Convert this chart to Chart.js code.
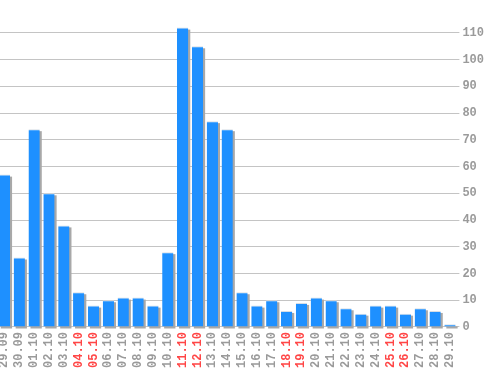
<!DOCTYPE html>
<html>
<head>
<meta charset="utf-8">
<script src="https://cdn.jsdelivr.net/npm/chart.js@4"></script>
<style>
  html, body { margin: 0; padding: 0; background: #fff; overflow: hidden; }
  #wrap { position: absolute; left: -3px; top: 0; width: 501px; height: 370px; }
</style>
</head>
<body>
<div id="wrap"><canvas id="grafica"></canvas></div>
<script>
// datos del gráfico
const fechas = ["29.09", "30.09", "01.10", "02.10", "03.10", "04.10", "05.10", "06.10", "07.10", "08.10",
  "09.10", "10.10", "11.10", "12.10", "13.10", "14.10", "15.10", "16.10", "17.10", "18.10",
  "19.10", "20.10", "21.10", "22.10", "23.10", "24.10", "25.10", "26.10", "27.10", "28.10", "29.10"];
const valores = [57, 26, 74, 50, 38, 13, 8, 10, 11, 11,
  8, 28, 112, 105, 77, 74, 13, 8, 10, 6,
  9, 11, 10, 7, 5, 8, 8, 5, 7, 6, 1];
const finesDeSemana = ["04.10", "05.10", "11.10", "12.10", "18.10", "19.10", "25.10", "26.10"];
const marcasY = [0, 10, 20, 30, 40, 50, 60, 70, 80, 90, 100, 110];

// sombra gris detrás de cada barra (usa las posiciones que calcula Chart.js)
const sombra = {
  id: "sombra",
  beforeDatasetsDraw(chart) {
    const ctx = chart.ctx;
    ctx.save();
    ctx.fillStyle = "#a8a8a8";
    for (const barra of chart.getDatasetMeta(0).data) {
      const ancho = barra.width;
      ctx.fillRect(barra.x - ancho / 2 + 2, barra.y + 2, ancho, barra.base - barra.y);
    }
    ctx.restore();
  }
};

const fuente = { family: "'Liberation Mono', 'DejaVu Sans Mono', monospace", size: 12, weight: "bold" };

new Chart(document.getElementById("grafica"), {
  type: "bar",
  data: {
    labels: fechas,
    datasets: [{
      data: valores,
      backgroundColor: "#1e90ff",
      borderColor: "#d6dde4",
      borderWidth: { top: 1, left: 0, right: 0, bottom: 0 },
      borderSkipped: false,
      categoryPercentage: 1,
      barPercentage: 0.76
    }]
  },
  options: {
    responsive: true,
    maintainAspectRatio: false,
    animation: false,
    layout: { padding: { top: -4, right: 11, bottom: -3, left: 0 } },
    plugins: { legend: { display: false }, tooltip: { enabled: false } },
    scales: {
      x: {
        grid: { display: false, drawTicks: false },
        border: { display: false },
        ticks: {
          minRotation: 90,
          maxRotation: 90,
          autoSkip: false,
          padding: 5,
          font: fuente,
          color: (c) => finesDeSemana.includes(fechas[c.index]) ? "#ff4646" : "#9a9a9a"
        }
      },
      y: {
        position: "right",
        min: 0,
        max: 118.5,
        afterBuildTicks: (eje) => { eje.ticks = marcasY.map(v => ({ value: v })); },
        grid: { color: "#c4c4c4", tickLength: 2, lineWidth: 1 },
        border: { display: false },
        ticks: { padding: 3, font: fuente, color: "#9a9a9a" }
      }
    }
  },
  plugins: [sombra]
});
</script>
</body>
</html>
